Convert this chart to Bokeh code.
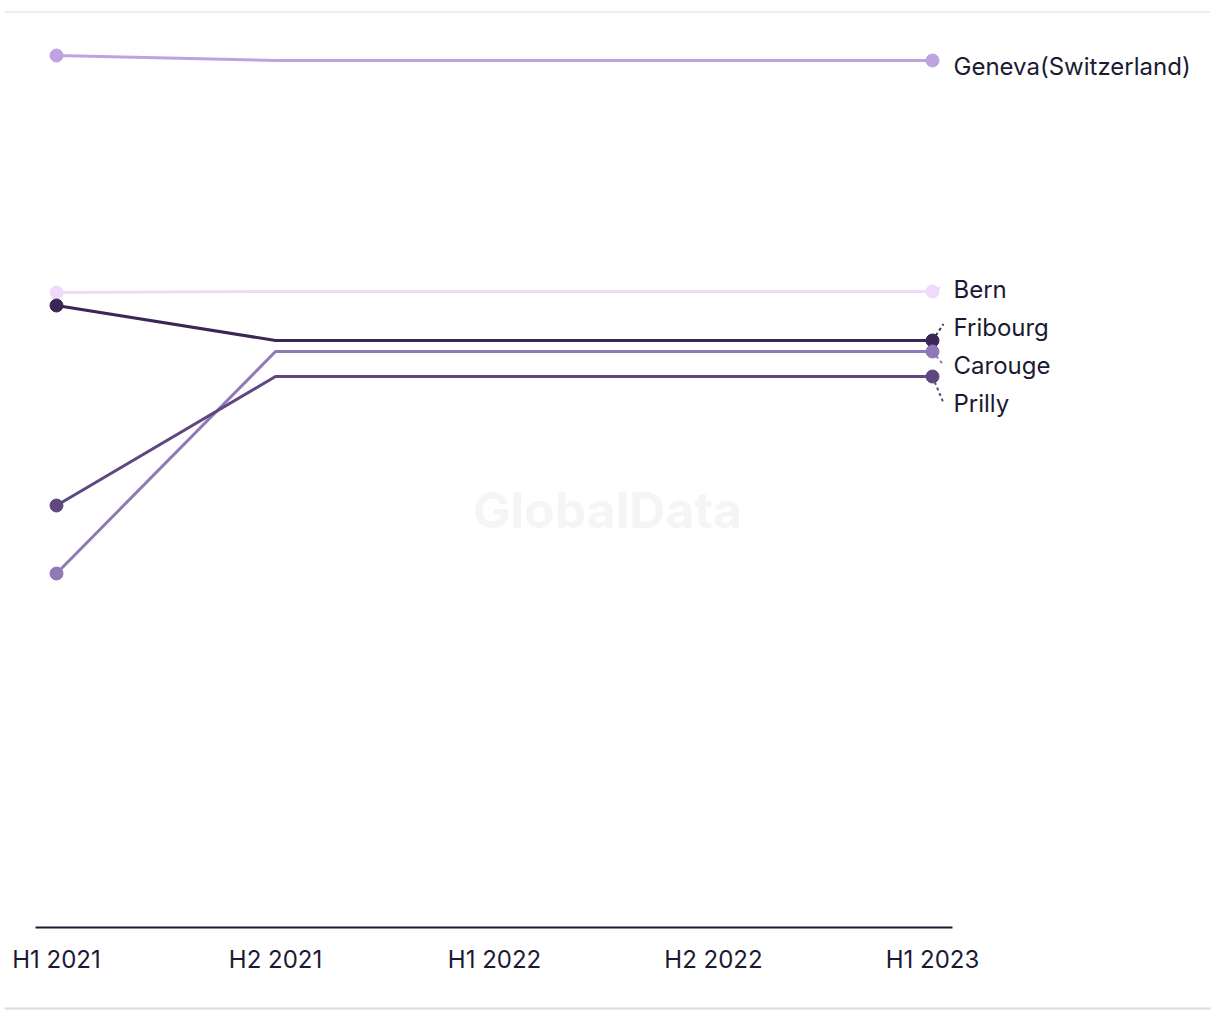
from bokeh.plotting import figure
from bokeh.models import ColumnDataSource, Span, Label, FixedTicker, Range1d, LinearAxis
from bokeh.embed import file_html
from bokeh.resources import INLINE
from bokeh.core.properties import value

periods = ["H1 2021", "H2 2021", "H1 2022", "H2 2022", "H1 2023"]
series_names = ["Geneva(Switzerland)", "Bern", "Fribourg", "Carouge", "Prilly"]
geneva = [87.2, 86.7, 86.7, 86.7, 86.7]
bern = [63.5, 63.6, 63.6, 63.6, 63.6]
fribourg = [62.2, 58.7, 58.7, 58.7, 58.7]
carouge = [35.4, 57.6, 57.6, 57.6, 57.6]
prilly = [42.2, 55.1, 55.1, 55.1, 55.1]
colors = ["#bda4e1", "#f1d9fb", "#3b2656", "#9079b6", "#5f4881"]

series_values = [geneva, bern, fribourg, carouge, prilly]

TEXT = "#1c1a33"
FONT = "Inter"
RULE = "#dcdcdc"

W, H = 1220, 1020
left_b, right_b, top_b, bottom_b = 4, 10, 11, 93
px_per_x = 219.0
x0 = -(56 - left_b) / px_per_x
x1 = 4 + (W - right_b - 932) / px_per_x
y0, y1 = 0.0, (H - bottom_b - top_b) / 10.0
px_per_y = 10.0

p = figure(width=W, height=H, output_backend="svg", toolbar_location=None,
           x_range=Range1d(x0, x1), y_range=Range1d(y0, y1),
           y_axis_location=None, min_border_left=left_b, min_border_right=right_b,
           min_border_top=top_b, min_border_bottom=bottom_b)
p.outline_line_color = None
p.xgrid.visible = False
p.ygrid.visible = False
p.background_fill_color = "white"
p.border_fill_color = "white"

xs = list(range(len(periods)))

# watermark
p.add_layout(Label(x=(x0 + x1) / 2, y=41.8, x_units="data", text="GlobalData",
                   text_font=FONT, text_font_style="bold", text_font_size="50px",
                   text_color="#f5f5f5", text_align="center", text_baseline="middle"))

for vals, c in zip(series_values, colors):
    src = ColumnDataSource(dict(x=xs, y=vals))
    p.line("x", "y", source=src, line_color=c, line_width=3)
    p.scatter([xs[0], xs[-1]], [vals[0], vals[-1]], size=13, fill_color=c, line_color=c)

# label placement (avoid overlap)
gap = 38 / px_per_y
last_vals = [v[-1] for v in series_values]
order = sorted(range(len(last_vals)), key=lambda i: -last_vals[i])


def pos(g):
    m = sum(last_vals[k] for k in g) / len(g)
    n = len(g)
    return [m + gap * ((n - 1) / 2 - j) for j in range(n)]


groups = []
for i in order:
    groups.append([i])
    while len(groups) > 1:
        a, b = groups[-2], groups[-1]
        if pos(a)[-1] - pos(b)[0] < gap:
            groups[-2:] = [a + b]
        else:
            break
label_y = {}
for g in groups:
    for k, yy in zip(g, pos(g)):
        label_y[k] = yy

lx = 4 + 21 / px_per_x
for k, name in enumerate(series_names):
    ly = label_y[k]
    if abs(ly - last_vals[k]) > 0.3:
        p.segment(x0=[4], y0=[last_vals[k]], x1=[4 + 11 / px_per_x],
                  y1=[ly - 0.6 + (0.3 if ly > last_vals[k] else 0.0)],
                  line_color=colors[k], line_width=2, line_dash="3 3")
    p.text(x=[lx], y=[ly], text=[name], text_font=value(FONT), text_font_size="24px",
           text_color=TEXT, text_align="left", text_baseline="middle", y_offset=6)

# x axis
ax = p.xaxis[0]
ax.ticker = FixedTicker(ticks=xs)
ax.major_label_overrides = {i: s for i, s in enumerate(periods)}
ax.bounds = (-(21 / px_per_x), 4 + 20 / px_per_x)
ax.axis_line_color = TEXT
ax.axis_line_width = 2
ax.major_tick_line_color = None
ax.minor_tick_line_color = None
ax.major_label_standoff = 11
ax.major_label_text_font = FONT
ax.major_label_text_font_size = "24px"
ax.major_label_text_color = TEXT
# invisible axis label used as padding so the bottom rule sits lower
ax.axis_label = "."
ax.axis_label_text_color = "white"
ax.axis_label_text_alpha = 0
ax.axis_label_text_font_size = "24px"
ax.axis_label_standoff = 12

# bottom rule as a bare axis line
rule = LinearAxis(ticker=FixedTicker(ticks=[]), axis_line_color=RULE, axis_line_width=2,
                  major_tick_line_color=None, minor_tick_line_color=None,
                  major_label_text_font_size="0px")
p.add_layout(rule, "below")

# top rule
p.add_layout(Span(location=y1, dimension="width", line_color=RULE, line_width=2))

open("out.html", "w").write(file_html(p, INLINE))
